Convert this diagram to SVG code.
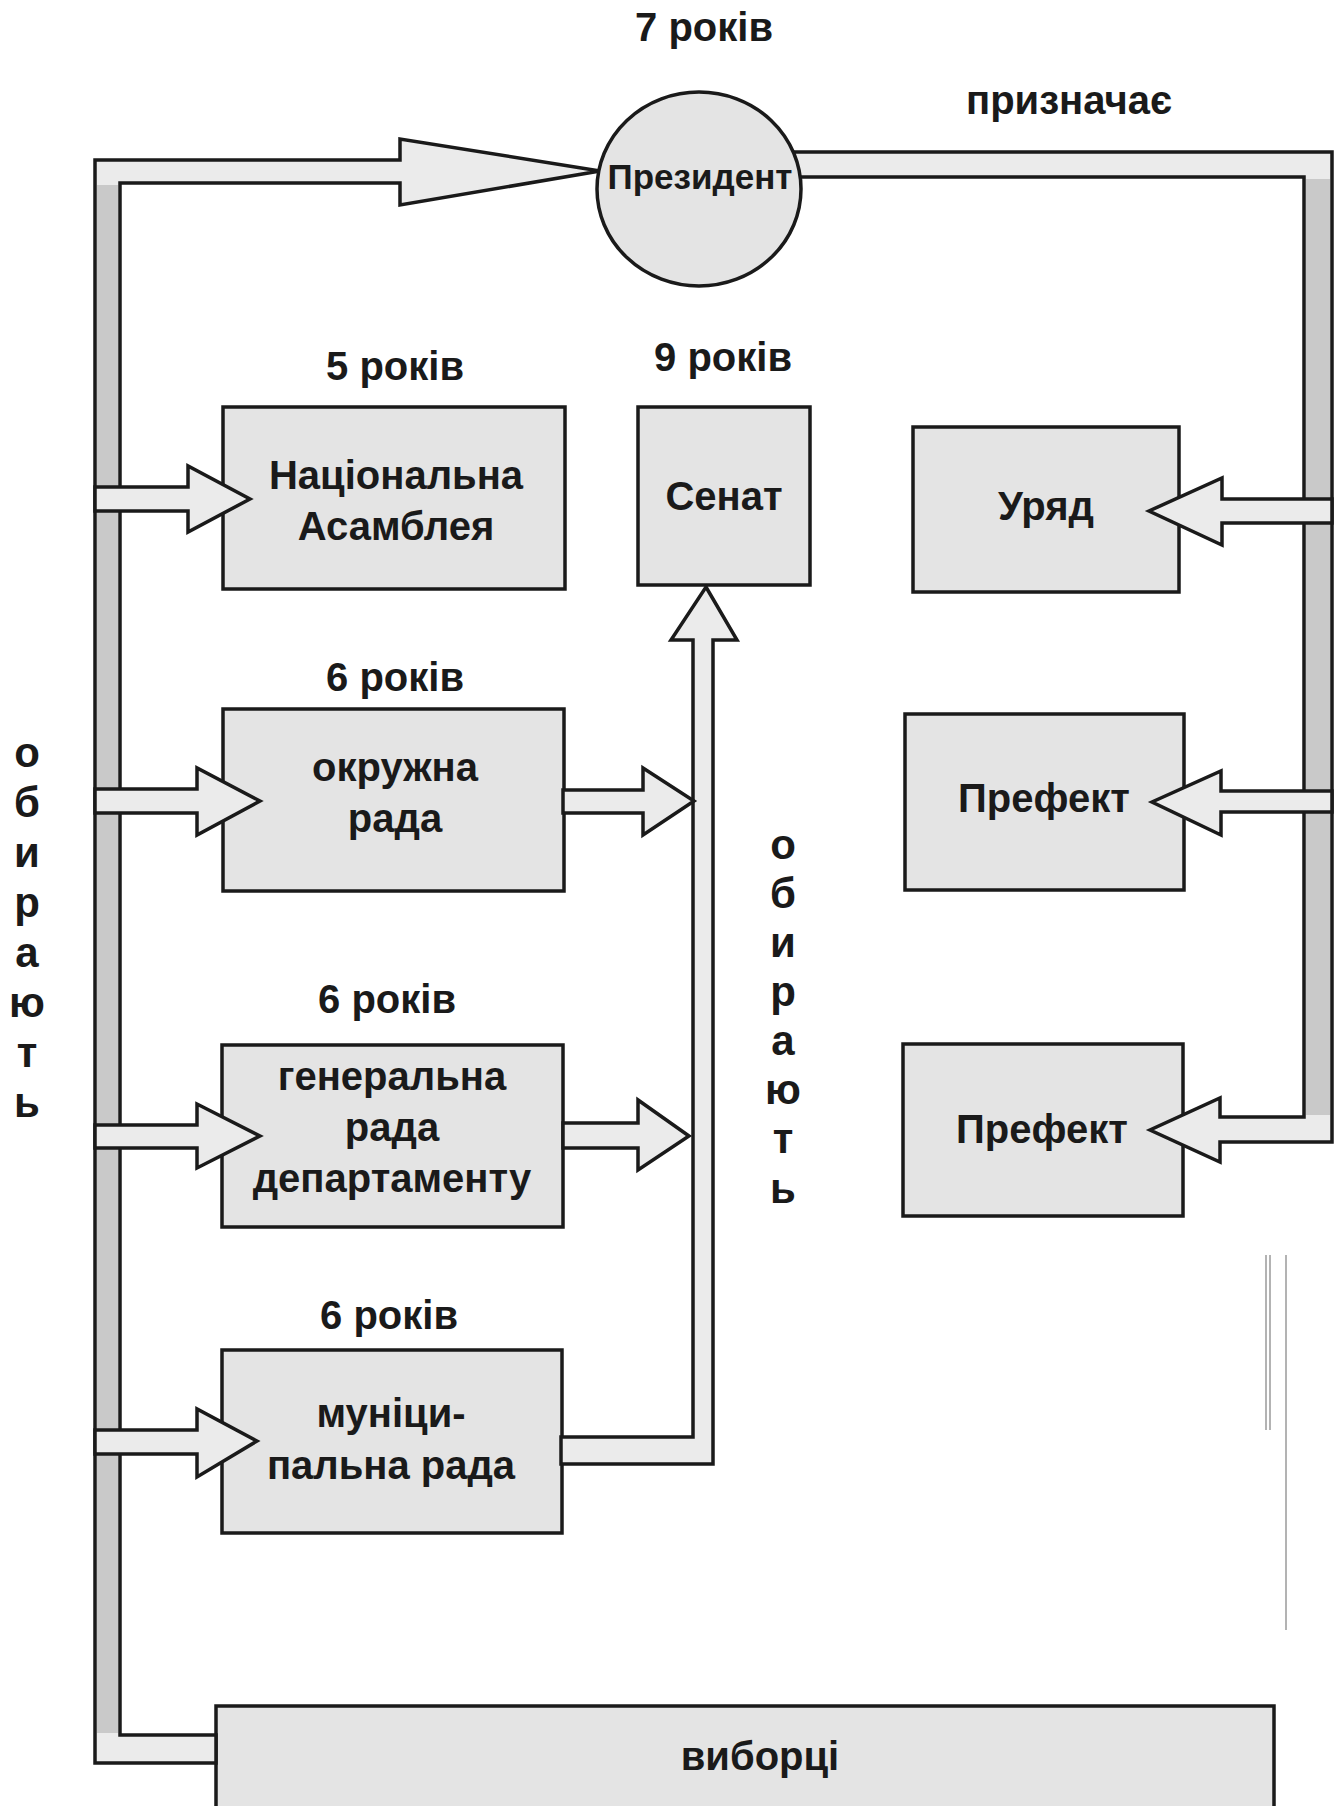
<svg xmlns="http://www.w3.org/2000/svg" width="1338" height="1806" viewBox="0 0 1338 1806">
<style>
.box{fill:#e4e4e4;stroke:#1a1a1a;stroke-width:3.5}
.bar{fill:#ebebeb;stroke:#1a1a1a;stroke-width:3.5;stroke-linejoin:miter}
.dark{fill:#c9c9c9}
text{font-family:"Liberation Sans",Arial,sans-serif;font-weight:bold;fill:#1a1a1a;text-anchor:middle}
.t{font-size:40px}
.v{font-size:42px}
.p{font-size:35px}
.noise{stroke:#9a9a9a;stroke-width:1.5;fill:none}
</style>
<rect x="0" y="0" width="1338" height="1806" fill="#ffffff"/>

<g id="label-years">
<text class="t" x="704" y="41">7 років</text>
<text class="t" x="1069" y="114">призначає</text>
<text class="t" x="395" y="380">5 років</text>
<text class="t" x="723" y="371">9 років</text>
<text class="t" x="395" y="691">6 років</text>
<text class="t" x="387" y="1013">6 років</text>
<text class="t" x="389" y="1329">6 років</text>
</g>

<g id="label-left-vertical">
<text class="v" x="27" y="767">о</text>
<text class="v" x="27" y="817">б</text>
<text class="v" x="27" y="867">и</text>
<text class="v" x="27" y="917">р</text>
<text class="v" x="27" y="967">а</text>
<text class="v" x="27" y="1017">ю</text>
<text class="v" x="27" y="1067">т</text>
<text class="v" x="27" y="1117">ь</text>
</g>

<g id="label-right-vertical">
<text class="v" x="783" y="859">о</text>
<text class="v" x="783" y="908">б</text>
<text class="v" x="783" y="957">и</text>
<text class="v" x="783" y="1006">р</text>
<text class="v" x="783" y="1055">а</text>
<text class="v" x="783" y="1104">ю</text>
<text class="v" x="783" y="1153">т</text>
<text class="v" x="783" y="1203">ь</text>
</g>

<g id="node-assembly">
<rect class="box" x="223" y="407" width="342" height="182"/>
<text class="t" x="396" y="489">Національна</text>
<text class="t" x="396" y="540">Асамблея</text>
</g>
<g id="node-senate">
<rect class="box" x="638" y="407" width="172" height="178"/>
<text class="t" x="724" y="510">Сенат</text>
</g>
<g id="node-district">
<rect class="box" x="223" y="709" width="341" height="182"/>
<text class="t" x="395" y="781">окружна</text>
<text class="t" x="395" y="832">рада</text>
</g>
<g id="node-general">
<rect class="box" x="222" y="1045" width="341" height="182"/>
<text class="t" x="392" y="1090">генеральна</text>
<text class="t" x="392" y="1141">рада</text>
<text class="t" x="392" y="1192">департаменту</text>
</g>
<g id="node-municipal">
<rect class="box" x="222" y="1350" width="340" height="183"/>
<text class="t" x="391" y="1427">муніци-</text>
<text class="t" x="391" y="1479">пальна рада</text>
</g>
<g id="node-government">
<rect class="box" x="913" y="427" width="266" height="165"/>
<text class="t" x="1046" y="520">Уряд</text>
</g>
<g id="node-prefect-1">
<rect class="box" x="905" y="714" width="279" height="176"/>
<text class="t" x="1044" y="812">Префект</text>
</g>
<g id="node-prefect-2">
<rect class="box" x="903" y="1044" width="280" height="172"/>
<text class="t" x="1042" y="1143">Префект</text>
</g>
<g id="node-voters">
<rect class="box" x="216" y="1706" width="1058" height="120"/>
<text class="t" x="760" y="1770">виборці</text>
</g>

<g id="connectors">
<polygon class="bar" points="95,160 400,160 400,139 600,171 400,205 400,183 120,183 120,1735 216,1735 216,1763 95,1763"/>
<rect class="dark" x="97" y="185" width="21" height="1548"/>
<polygon class="bar" points="95,487 188,487 188,466 250,499 188,532 188,511 95,511"/>
<polygon class="bar" points="95,789 197,789 197,768 260,801 197,835 197,813 95,813"/>
<polygon class="bar" points="95,1125 197,1125 197,1104 260,1136 197,1168 197,1148 95,1148"/>
<polygon class="bar" points="95,1430 197,1430 197,1409 257,1441 197,1477 197,1454 95,1454"/>

<polygon class="bar" points="706,587 737,640 713,640 713,1464 561,1464 561,1437 693,1437 693,640 671,640"/>
<polygon class="bar" points="563,790 643,790 643,768 694,801 643,835 643,813 563,813"/>
<polygon class="bar" points="563,1123 638,1123 638,1100 689,1136 638,1170 638,1148 563,1148"/>

<polygon class="bar" points="780,152 1332,152 1332,1142 1220,1142 1220,1162 1150,1130 1220,1098 1220,1117 1304,1117 1304,177 780,177"/>
<rect class="dark" x="1306" y="179" width="24" height="936"/>
<polygon class="bar" points="1332,499 1222,499 1222,478 1149,511 1222,545 1222,523 1332,523"/>
<polygon class="bar" points="1332,791 1221,791 1221,771 1152,802 1221,835 1221,812 1332,812"/>
</g>

<g id="node-president">
<ellipse class="box" cx="699" cy="189" rx="102" ry="97"/>
<text class="p" x="700" y="189">Президент</text>
</g>

<line class="noise" x1="1266" y1="1255" x2="1266" y2="1430"/>
<line class="noise" x1="1270" y1="1255" x2="1270" y2="1430"/>
<line class="noise" x1="1286" y1="1255" x2="1286" y2="1630"/>
</svg>
